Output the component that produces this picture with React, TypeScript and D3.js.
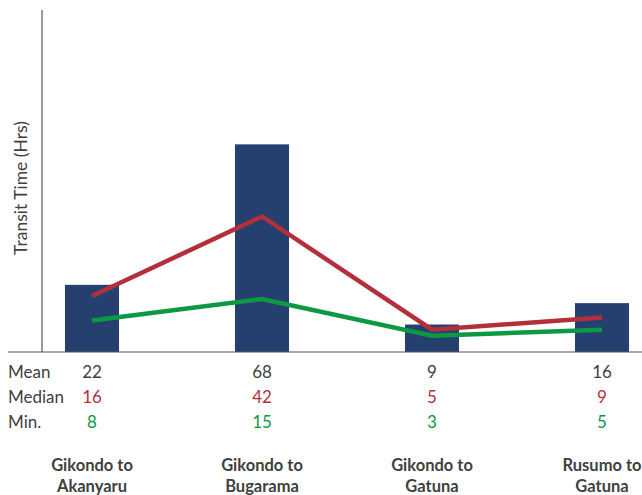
import * as d3 from 'd3'

const routes = [
  ['Gikondo to', 'Akanyaru'],
  ['Gikondo to', 'Bugarama'],
  ['Gikondo to', 'Gatuna'],
  ['Rusumo to', 'Gatuna'],
]
const meanHrs = [22, 68, 9, 16]
const medianHrs = [16, 42, 5, 9]
const minHrs = [8, 15, 3, 5]

const width = 642
const height = 495
const base = 352
const top = 10
const axisX = 42

const navy = '#253f6f'
const red = '#b3303a'
const green = '#0d9943'
const grey = '#404040'
const font = 'Lato, "Open Sans", sans-serif'

export default function App() {
  const x = d3
    .scaleBand<number>()
    .domain(d3.range(routes.length))
    .range([7, 687])
    .paddingInner(0.682)
    .paddingOuter(0.341)

  // bars on the main axis, lines on a hidden secondary axis
  const y = d3.scaleLinear().domain([0, 112]).range([base, top])
  const y2 = d3.scaleLinear().domain([-2.3, 109.5]).range([base, top])

  const cx = (i: number) => (x(i) || 0) + x.bandwidth() / 2
  const line = d3
    .line<number>()
    .x((_, i) => cx(i))
    .y((d) => y2(d))

  const rows = [
    { name: 'Mean', vals: meanHrs, color: grey, y: 378 },
    { name: 'Median', vals: medianHrs, color: red, y: 403 },
    { name: 'Min.', vals: minHrs, color: green, y: 428 },
  ]

  return (
    <svg
      width={width}
      height={height}
      style={{ position: 'absolute', left: 0, top: 0 }}
      fontFamily={font}
    >
      <rect width={width} height={height} fill="#fff" />
      {meanHrs.map((v, i) => (
        <rect
          key={i}
          x={x(i)}
          y={y(v)}
          width={x.bandwidth()}
          height={y(0) - y(v)}
          fill={navy}
        />
      ))}
      <line x1={axisX} x2={axisX} y1={top} y2={base} stroke="#595959" strokeWidth={1.2} />
      <line x1={8} x2={width} y1={base} y2={base} stroke="#595959" strokeWidth={1.2} />
      <path d={line(medianHrs) || ''} fill="none" stroke={red} strokeWidth={4.5} />
      <path d={line(minHrs) || ''} fill="none" stroke={green} strokeWidth={4.5} />

      <text
        transform={`translate(27,188) rotate(-90)`}
        textAnchor="middle"
        fontSize={17.5}
        fill={grey}
      >
        Transit Time (Hrs)
      </text>

      {rows.map((r) => (
        <g key={r.name} fontSize={17}>
          <text x={8} y={r.y} fill={grey}>
            {r.name}
          </text>
          {r.vals.map((v, i) => (
            <text key={i} x={cx(i)} y={r.y} textAnchor="middle" fill={r.color}>
              {v}
            </text>
          ))}
        </g>
      ))}

      {routes.map((lines, i) => (
        <text
          key={i}
          x={cx(i)}
          textAnchor="middle"
          fontSize={16.5}
          fontWeight="bold"
          fill={grey}
        >
          <tspan x={cx(i)} y={471}>
            {lines[0]}
          </tspan>
          <tspan x={cx(i)} y={492}>
            {lines[1]}
          </tspan>
        </text>
      ))}
    </svg>
  )
}
